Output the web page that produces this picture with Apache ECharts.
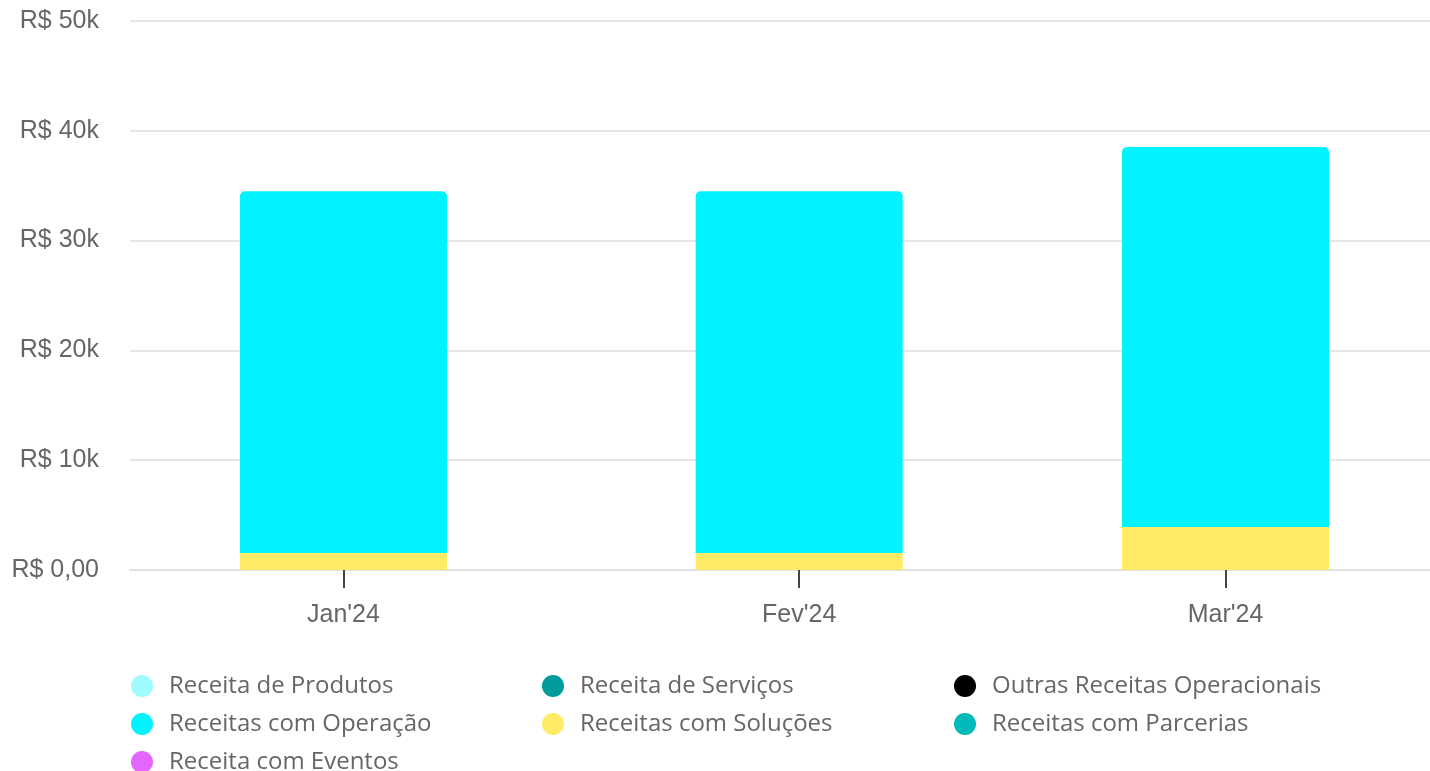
<!DOCTYPE html>
<html>
<head>
<meta charset="utf-8">
<script src="https://cdn.jsdelivr.net/npm/echarts@6/dist/echarts.min.js"></script>
<style>
  html, body { margin: 0; padding: 0; background: #fff; }
  #receitas { width: 1430px; height: 771px; }
</style>
</head>
<body>
<div id="receitas"></div>
<script>
// meses (eixo de tempo, como no original)
const meses = ['2024-01-01', '2024-02-01', '2024-03-01'];
const rotulosMeses = ["Jan'24", "Fev'24", "Mar'24"];

// valores por série (R$)
const receitaProdutos = [0, 0, 0];
const receitaServicos = [0, 0, 0];
const outrasReceitas = [0, 0, 0];
const receitasSolucoes = [1550, 1550, 3920];
const receitasOperacao = [32950, 32950, 34600];
const receitasParcerias = [0, 0, 0];
const receitaEventos = [0, 0, 0];

const ticksY = [0, 10000, 20000, 30000, 40000, 50000];

const cores = {
    'Receita de Produtos': '#9ffbff',
    'Receita de Serviços': '#009c9c',
    'Outras Receitas Operacionais': '#000000',
    'Receitas com Operação': '#00f3ff',
    'Receitas com Soluções': '#ffeb66',
    'Receitas com Parcerias': '#00b9bb',
    'Receita com Eventos': '#e366ff'
};

const toTs = (s) => {
    const p = s.split('-');
    return new Date(+p[0], +p[1] - 1, +p[2]).getTime();
};
const tsMeses = meses.map(toTs);
const DIA = 86400000;

const pares = (vals) => tsMeses.map((t, i) => [t, vals[i]]);

var chart = echarts.init(document.getElementById('receitas'));

const serie = (nome, vals, extra) => Object.assign({
    name: nome,
    type: 'bar',
    stack: 'total',
    barWidth: 207,
    data: pares(vals),
    itemStyle: { color: cores[nome] }
}, extra || {});

const legenda = (left, nomes) => ({
    orient: 'vertical',
    left: left,
    top: 674,
    height: 120,
    padding: 0,
    itemGap: 14,
    itemWidth: 22,
    itemHeight: 22,
    icon: 'circle',
    data: nomes,
    textStyle: {
        fontFamily: 'Open Sans',
        fontSize: 24,
        color: '#666',
        padding: [0, 0, 0, 11]
    }
});

chart.setOption({
    animation: false,
    grid: {
        left: 130,
        right: 0,
        top: 21,
        bottom: 201
    },
    legend: [
        legenda(131, ['Receita de Produtos', 'Receitas com Operação', 'Receita com Eventos']),
        legenda(542, ['Receita de Serviços', 'Receitas com Soluções']),
        legenda(954, ['Outras Receitas Operacionais', 'Receitas com Parcerias'])
    ],
    xAxis: {
        type: 'time',
        // o echarts ainda alarga a escala pra caber as barras
        min: tsMeses[0] - 7.48 * DIA,
        max: tsMeses[2] + 6.87 * DIA,
        minInterval: 28 * DIA,
        maxInterval: 31 * DIA,
        splitLine: { show: false },
        axisLine: { show: true, lineStyle: { color: '#e0e0e0', width: 2 } },
        axisTick: {
            show: true,
            length: 18,
            lineStyle: { color: '#444', width: 2 }
        },
        axisLabel: {
            margin: 33,
            fontFamily: 'Liberation Sans',
            fontSize: 25,
            color: '#666',
            showMinLabel: false,
            showMaxLabel: false,
            formatter: function (value) {
                const i = tsMeses.indexOf(value);
                return i >= 0 ? rotulosMeses[i] : '';
            }
        }
    },
    yAxis: {
        type: 'value',
        min: ticksY[0],
        max: ticksY[ticksY.length - 1],
        interval: 10000,
        axisLine: { show: false },
        axisTick: { show: false },
        splitLine: { lineStyle: { color: '#e6e6e6', width: 2 } },
        axisLabel: {
            margin: 31,
            padding: [5, 0, 0, 0],
            fontFamily: 'Liberation Sans',
            fontSize: 25,
            color: '#666',
            formatter: function (v) {
                return v === 0 ? 'R$ 0,00' : 'R$ ' + (v / 1000) + 'k';
            }
        }
    },
    series: [
        serie('Receita de Produtos', receitaProdutos),
        serie('Receita de Serviços', receitaServicos),
        serie('Outras Receitas Operacionais', outrasReceitas),
        serie('Receitas com Soluções', receitasSolucoes),
        serie('Receitas com Operação', receitasOperacao, {
            itemStyle: { color: cores['Receitas com Operação'], borderRadius: [5, 5, 0, 0] }
        }),
        serie('Receitas com Parcerias', receitasParcerias),
        serie('Receita com Eventos', receitaEventos)
    ]
});

window.addEventListener('resize', () => {
    chart.resize()
})
</script>
</body>
</html>
